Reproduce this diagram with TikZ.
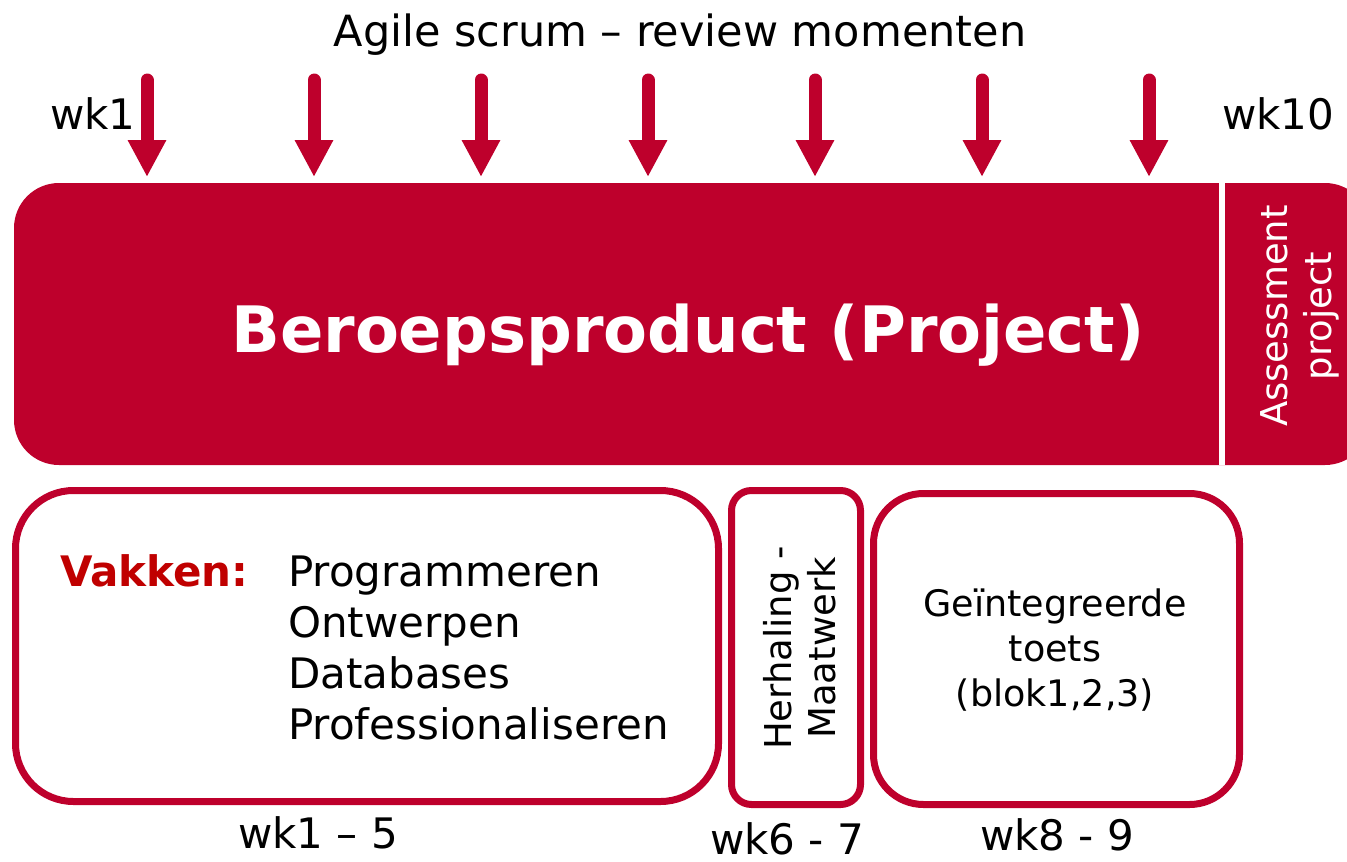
\documentclass[tikz,border=0pt]{standalone}
\usepackage{fontspec}
\setmainfont{DejaVu Sans}
\usetikzlibrary{arrows.meta}
\definecolor{hred}{RGB}{190,0,44}
\definecolor{vred}{RGB}{192,0,0}
\tikzset{
  revarrow/.style={hred, line width=13pt, line cap=round, shorten >=6pt,
    -{Triangle[width=36pt,length=37pt]}},
  txt/.style={inner sep=0pt, font=\fontsize{42}{51}\selectfont},
  smalltxt/.style={inner sep=0pt, align=center, font=\fontsize{37}{44}\selectfont},
  outlinebox/.style={draw=hred, line width=7pt, fill=white, inner sep=0pt, outer sep=0pt, anchor=north west},
}
\begin{document}
\begin{tikzpicture}[x=1pt,y=-1pt]
\useasboundingbox (0,0) rectangle (1347,862);
\clip (0,0) rectangle (1347,862);

% title
\node[txt, anchor=base, font=\fontsize{43}{51}\selectfont] (title) at (680,46) {Agile scrum – review momenten};
\node[txt, anchor=base west] (wka) at (50,129) {wk1};
\node[txt, anchor=base west] (wkb) at (1222,129) {wk10};

% main box
\node[fill=hred, rounded corners=45pt, inner sep=0pt, outer sep=0pt, anchor=north west,
      minimum width=1356pt, minimum height=282pt] (main) at (14,183) {};
\coordinate (gapt) at (1222,183);
\draw[white, line width=6pt] (gapt) -- (gapt |- main.south);
\node[inner sep=0pt, anchor=base, text=white, font=\fontsize{64}{70}\selectfont\bfseries]
  (bp) at (688,352) {Beroepsproduct (Project)};
\node[smalltxt, text=white, rotate=90] (ass) at (1300,316) {Assessment\\project};

% arrows
\foreach \i in {0,...,6} {
  \coordinate (s\i) at ({147+167*\i},80);
  \draw[revarrow] (s\i) -- (s\i |- main.north);
}

% lower boxes
\node[outlinebox, rounded corners=58pt, minimum width=703pt, minimum height=311pt] (b1) at (15.5,490.5) {};
\node[outlinebox, rounded corners=20pt, minimum width=129pt, minimum height=314pt] (b2) at (731.5,490.5) {};
\node[outlinebox, rounded corners=50pt, minimum width=366pt, minimum height=311pt] (b3) at (873.5,493.5) {};

\node[txt, anchor=base west, text=vred, font=\fontsize{42}{51}\selectfont\bfseries] (vak) at (60,586) {Vakken:};
\node[txt, anchor=base west] (l1) at (288,586) {Programmeren};
\node[txt, anchor=base west] (l2) at (288,637) {Ontwerpen};
\node[txt, anchor=base west] (l3) at (288,688) {Databases};
\node[txt, anchor=base west] (l4) at (288,739) {Professionaliseren};

\node[smalltxt, rotate=90] (her) at (800,648) {Herhaling -\\Maatwerk};
\node[smalltxt, font=\fontsize{36.5}{45}\selectfont] (git) at (1055,650) {Geïntegreerde\\toets\\(blok1,2,3)};

\node[txt, anchor=base] (w1) at (318,848) {wk1 – 5};
\node[txt, anchor=base] (w2) at (787,854) {wk6 - 7};
\node[txt, anchor=base] (w3) at (1057,850) {wk8 - 9};
\end{tikzpicture}
\end{document}
